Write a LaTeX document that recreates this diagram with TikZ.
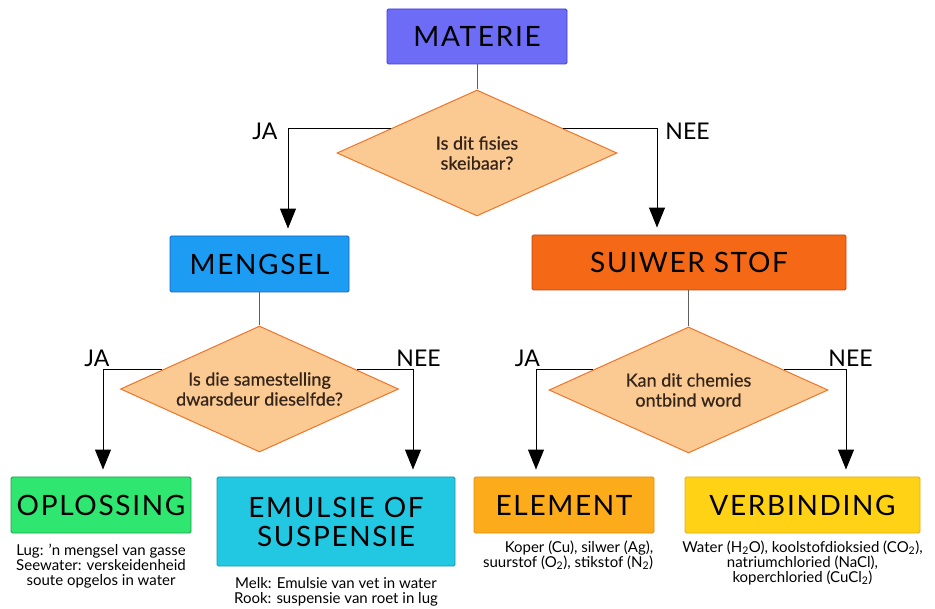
\documentclass[tikz,border=0pt]{standalone}
\usepackage{fontspec}
\setmainfont{Lato}
\newfontfamily\titlefont{Lato}[LetterSpace=6]
\newfontfamily\askfont{Lato}[FakeBold=0.6]
\usepackage{tikz}
\usetikzlibrary{arrows.meta,positioning,shapes.geometric}
\definecolor{matfill}{RGB}{108,108,246}
\definecolor{matline}{RGB}{60,60,215}
\definecolor{mengfill}{RGB}{28,156,242}
\definecolor{mengline}{RGB}{20,100,200}
\definecolor{suifill}{RGB}{244,104,22}
\definecolor{suiline}{RGB}{190,72,20}
\definecolor{oplfill}{RGB}{46,230,112}
\definecolor{oplline}{RGB}{30,160,70}
\definecolor{emufill}{RGB}{34,200,226}
\definecolor{emuline}{RGB}{20,150,180}
\definecolor{elefill}{RGB}{252,172,26}
\definecolor{eleline}{RGB}{228,138,20}
\definecolor{verfill}{RGB}{255,210,22}
\definecolor{verline}{RGB}{228,170,20}
\definecolor{qfill}{RGB}{250,202,146}
\definecolor{qline}{RGB}{240,116,40}
\definecolor{qtext}{RGB}{52,36,26}
\definecolor{linkgray}{RGB}{95,95,95}
\tikzset{
  catbox/.style={rounded corners=1.5pt, line width=0.9pt, inner sep=0pt, align=center, font=\titlefont\fontsize{28}{30}\selectfont},
  question/.style={diamond, aspect=2.2, draw=qline, fill=qfill, line width=1pt, inner sep=0pt, minimum width=280pt, minimum height=126pt, align=center, text=qtext, font=\askfont\fontsize{18}{20}\selectfont},
  choice/.style={font=\fontsize{23}{23}\selectfont, inner sep=0pt},
  example/.style={align=center, inner sep=0pt, font=\fontsize{15}{15}\selectfont},
  link/.style={draw=linkgray, line width=0.8pt},
  line/.style={-{Triangle[length=20pt,width=16pt]}, line width=1pt, draw=black, shorten >=7pt}
}
\begin{document}
\begin{tikzpicture}[x=1pt, y=-1pt]
    \useasboundingbox (0,0) rectangle (935,609);
    \node[catbox, fill=matfill, draw=matline, minimum width=180pt, minimum height=55pt] (materie) at (477,36.5) {MATERIE};
    \node[question] (q1) at (477,153) {Is dit fisies\\skeibaar?};
    \node[catbox, fill=mengfill, draw=mengline, minimum width=179pt, minimum height=56pt] (meng) at (259.5,264) {MENGSEL};
    \node[catbox, fill=suifill, draw=suiline, minimum width=314pt, minimum height=55pt] (suiwer) at (689,262.5) {SUIWER STOF};
    \node[question, minimum width=278pt] (q2) at (259.5,389) {Is die samestelling\\dwarsdeur dieselfde?};
    \node[question, minimum width=279pt] (q3) at (688.5,390) {Kan dit chemies\\ontbind word};
    \node[catbox, fill=oplfill, draw=oplline, minimum width=180pt, minimum height=56pt] (opl) at (101,505) {OPLOSSING};
    \node[catbox, fill=emufill, draw=emuline, minimum width=238pt, minimum height=89pt] (emu) at (336,521.5) {EMULSIE OF\\[-1pt]SUSPENSIE};
    \node[catbox, fill=elefill, draw=eleline, minimum width=180pt, minimum height=56pt] (ele) at (564,505) {ELEMENT};
    \node[catbox, fill=verfill, draw=verline, minimum width=235pt, minimum height=56pt] (ver) at (802.5,505) {VERBINDING};

    \node[example, below=10pt of opl] (oplex) {Lug: 'n mengsel van gasse\\Seewater: verskeidenheid\\soute opgelos in water};
    \node[example, below=11pt of emu] (emuex) {Melk: Emulsie van vet in water\\Rook: suspensie van roet in lug};
    \node[example, align=right, below=7pt of ele.south east, anchor=north east, xshift=-1pt] (eleex) {Koper (Cu), silwer (Ag),\\suurstof (O\textsubscript{2}), stikstof (N\textsubscript{2})};
    \node[example, below=7pt of ver] (verex) {Water (H\textsubscript{2}O), koolstofdioksied (CO\textsubscript{2}),\\natriumchloried (NaCl),\\koperchloried (CuCl\textsubscript{2})};

    \node[choice] (ja1) at (265,131.5) {JA};
    \node[choice] (nee1) at (687.5,131.5) {NEE};
    \node[choice] (ja2) at (97,358.5) {JA};
    \node[choice] (nee2) at (418.5,358.5) {NEE};
    \node[choice] (ja3) at (527.5,358) {JA};
    \node[choice] (nee3) at (850.5,358) {NEE};

    \draw[link] (materie) -- (q1);
    \draw[link] (meng) -- (q2);
    \draw[link] (suiwer.south -| q3.north) -- (q3);
    \draw[line] (q1.164) -| ([xshift=28.5pt]meng.north);
    \draw[line] (q1.16) -| ([xshift=-32pt]suiwer.north);
    \draw[line] (q2.169) -| ([xshift=2pt]opl.north);
    \draw[line] (q2.11) -| ([xshift=77pt]emu.north);
    \draw[line] (q3.168) -| ([xshift=-28pt]ele.north);
    \draw[line] (q3.12) -| ([xshift=43.5pt]ver.north);
\end{tikzpicture}
\end{document}
